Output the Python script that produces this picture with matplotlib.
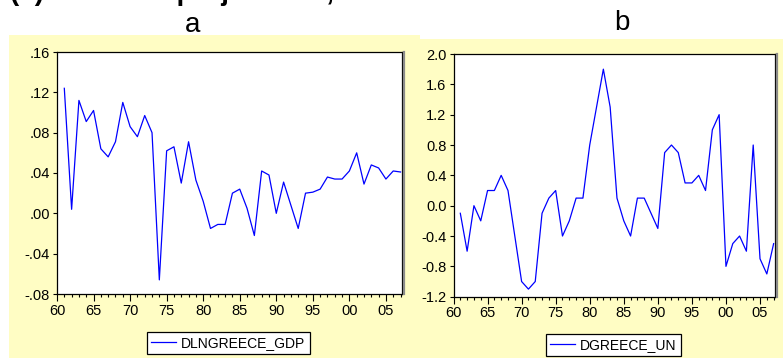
import matplotlib
matplotlib.use("Agg")
import matplotlib.pyplot as plt
from matplotlib.patches import Rectangle
from matplotlib.ticker import FixedLocator, MultipleLocator
import matplotlib.transforms as mtransforms

plt.rcParams['font.family'] = ['Liberation Sans', 'DejaVu Sans']

# Annual observations, first differences
years = list(range(1961, 2008))

dln_gdp = [0.124, 0.004, 0.112, 0.091, 0.102, 0.064, 0.056, 0.071, 0.110, 0.086,
           0.076, 0.097, 0.080, -0.066, 0.062, 0.066, 0.030, 0.071, 0.033, 0.012,
           -0.015, -0.011, -0.011, 0.020, 0.024, 0.005, -0.022, 0.042, 0.038, 0.000,
           0.031, 0.008, -0.015, 0.020, 0.021, 0.024, 0.036, 0.034, 0.034, 0.042,
           0.060, 0.029, 0.048, 0.045, 0.034, 0.042, 0.041]

d_un = [-0.1, -0.6, 0.0, -0.2, 0.2, 0.2, 0.4, 0.2, -0.4, -1.0,
        -1.1, -1.0, -0.1, 0.1, 0.2, -0.4, -0.2, 0.1, 0.1, 0.8,
        1.3, 1.8, 1.3, 0.1, -0.2, -0.4, 0.1, 0.1, -0.1, -0.3,
        0.7, 0.8, 0.7, 0.3, 0.3, 0.4, 0.2, 1.0, 1.2, -0.8,
        -0.5, -0.4, -0.6, 0.8, -0.7, -0.9, -0.5]

year_ticks = [1960, 1965, 1970, 1975, 1980, 1985, 1990, 1995, 2000, 2005]
year_labels = ["60", "65", "70", "75", "80", "85", "90", "95", "00", "05"]
gdp_ticks = [-0.08, -0.04, 0.00, 0.04, 0.08, 0.12, 0.16]
un_ticks = [-1.2, -0.8, -0.4, 0.0, 0.4, 0.8, 1.2, 1.6, 2.0]

W, H = 783, 358
fig = plt.figure(figsize=(W / 100, H / 100), dpi=100)
fig.patch.set_facecolor('white')

panel_col = '#FFFDC4'
fig.add_artist(Rectangle((9 / W, 0), (420 - 9) / W, (H - 35) / H,
                         transform=fig.transFigure, facecolor=panel_col,
                         edgecolor='none', zorder=0))
fig.add_artist(Rectangle((420 / W, 0), (W - 420) / W, (H - 39) / H,
                         transform=fig.transFigure, facecolor=panel_col,
                         edgecolor='none', zorder=0))

# heading sits above the top edge, only its lowest strokes fall inside
fig.text(10 / W, 1 - 0.5 / H, "(c) Data and projections, Greece", fontsize=20,
         fontweight='bold', ha='left', va='baseline')
fig.text(193 / W, 1 - 31.5 / H, "a", fontsize=20, ha='center', va='baseline')
fig.text(622 / W, 1 - 30.5 / H, "b", fontsize=20, ha='center', va='baseline')


def make_panel(rect, values, yticks, fmt, name, legend_center):
    ax = fig.add_axes(rect)
    ax.set_facecolor('white')
    ax.plot(years, values, color='#0000FF', lw=0.9, label=name)
    ax.set_xlim(1960, 2007.2)
    ax.set_ylim(yticks[0], yticks[-1])
    ax.xaxis.set_major_locator(FixedLocator(year_ticks))
    ax.set_xticklabels(year_labels)
    ax.xaxis.set_minor_locator(MultipleLocator(1))
    ax.yaxis.set_major_locator(FixedLocator(yticks))
    ax.set_yticklabels([fmt(v) for v in yticks])
    ax.tick_params(axis='both', which='major', direction='out', labelsize=10.5,
                   width=0.8, color='black')
    ax.tick_params(axis='x', which='major', length=5, pad=2)
    ax.tick_params(axis='x', which='minor', length=2.5, width=0.8)
    ax.tick_params(axis='y', which='major', length=3, pad=2)
    for s in ax.spines.values():
        s.set_linewidth(0.9)
        s.set_color('black')
    # grey drop shadow along the right edge of the frame
    shadow = mtransforms.offset_copy(ax.transAxes, fig=fig, x=1.6, y=0, units='dots')
    ax.plot([1, 1], [0, 1], transform=shadow, color='#8a8a8a', lw=1.6,
            clip_on=False, zorder=5)
    leg = fig.legend(*ax.get_legend_handles_labels(), loc='center',
                     bbox_to_anchor=legend_center, fontsize=10,
                     frameon=True, fancybox=False, edgecolor='black',
                     framealpha=1, handlelength=1.8, handletextpad=0.35,
                     borderpad=0.3, borderaxespad=0)
    leg.get_frame().set_linewidth(0.9)
    return ax


def fmt_gdp(v):
    s = f"{v:.2f}"
    return s.replace("0.", ".", 1)


def fmt_un(v):
    return f"{v:.1f}"


make_panel([57 / W, (H - 294) / H, 345 / W, 242 / H], dln_gdp, gdp_ticks,
           fmt_gdp, "DLNGREECE_GDP", (228.5 / W, 1 - 343 / H))
make_panel([453.5 / W, (H - 296.7) / H, 321.5 / W, 242.7 / H], d_un, un_ticks,
           fmt_un, "DGREECE_UN", (613.5 / W, 1 - 345 / H))

fig.savefig("out.png", dpi=100, facecolor=fig.get_facecolor())
